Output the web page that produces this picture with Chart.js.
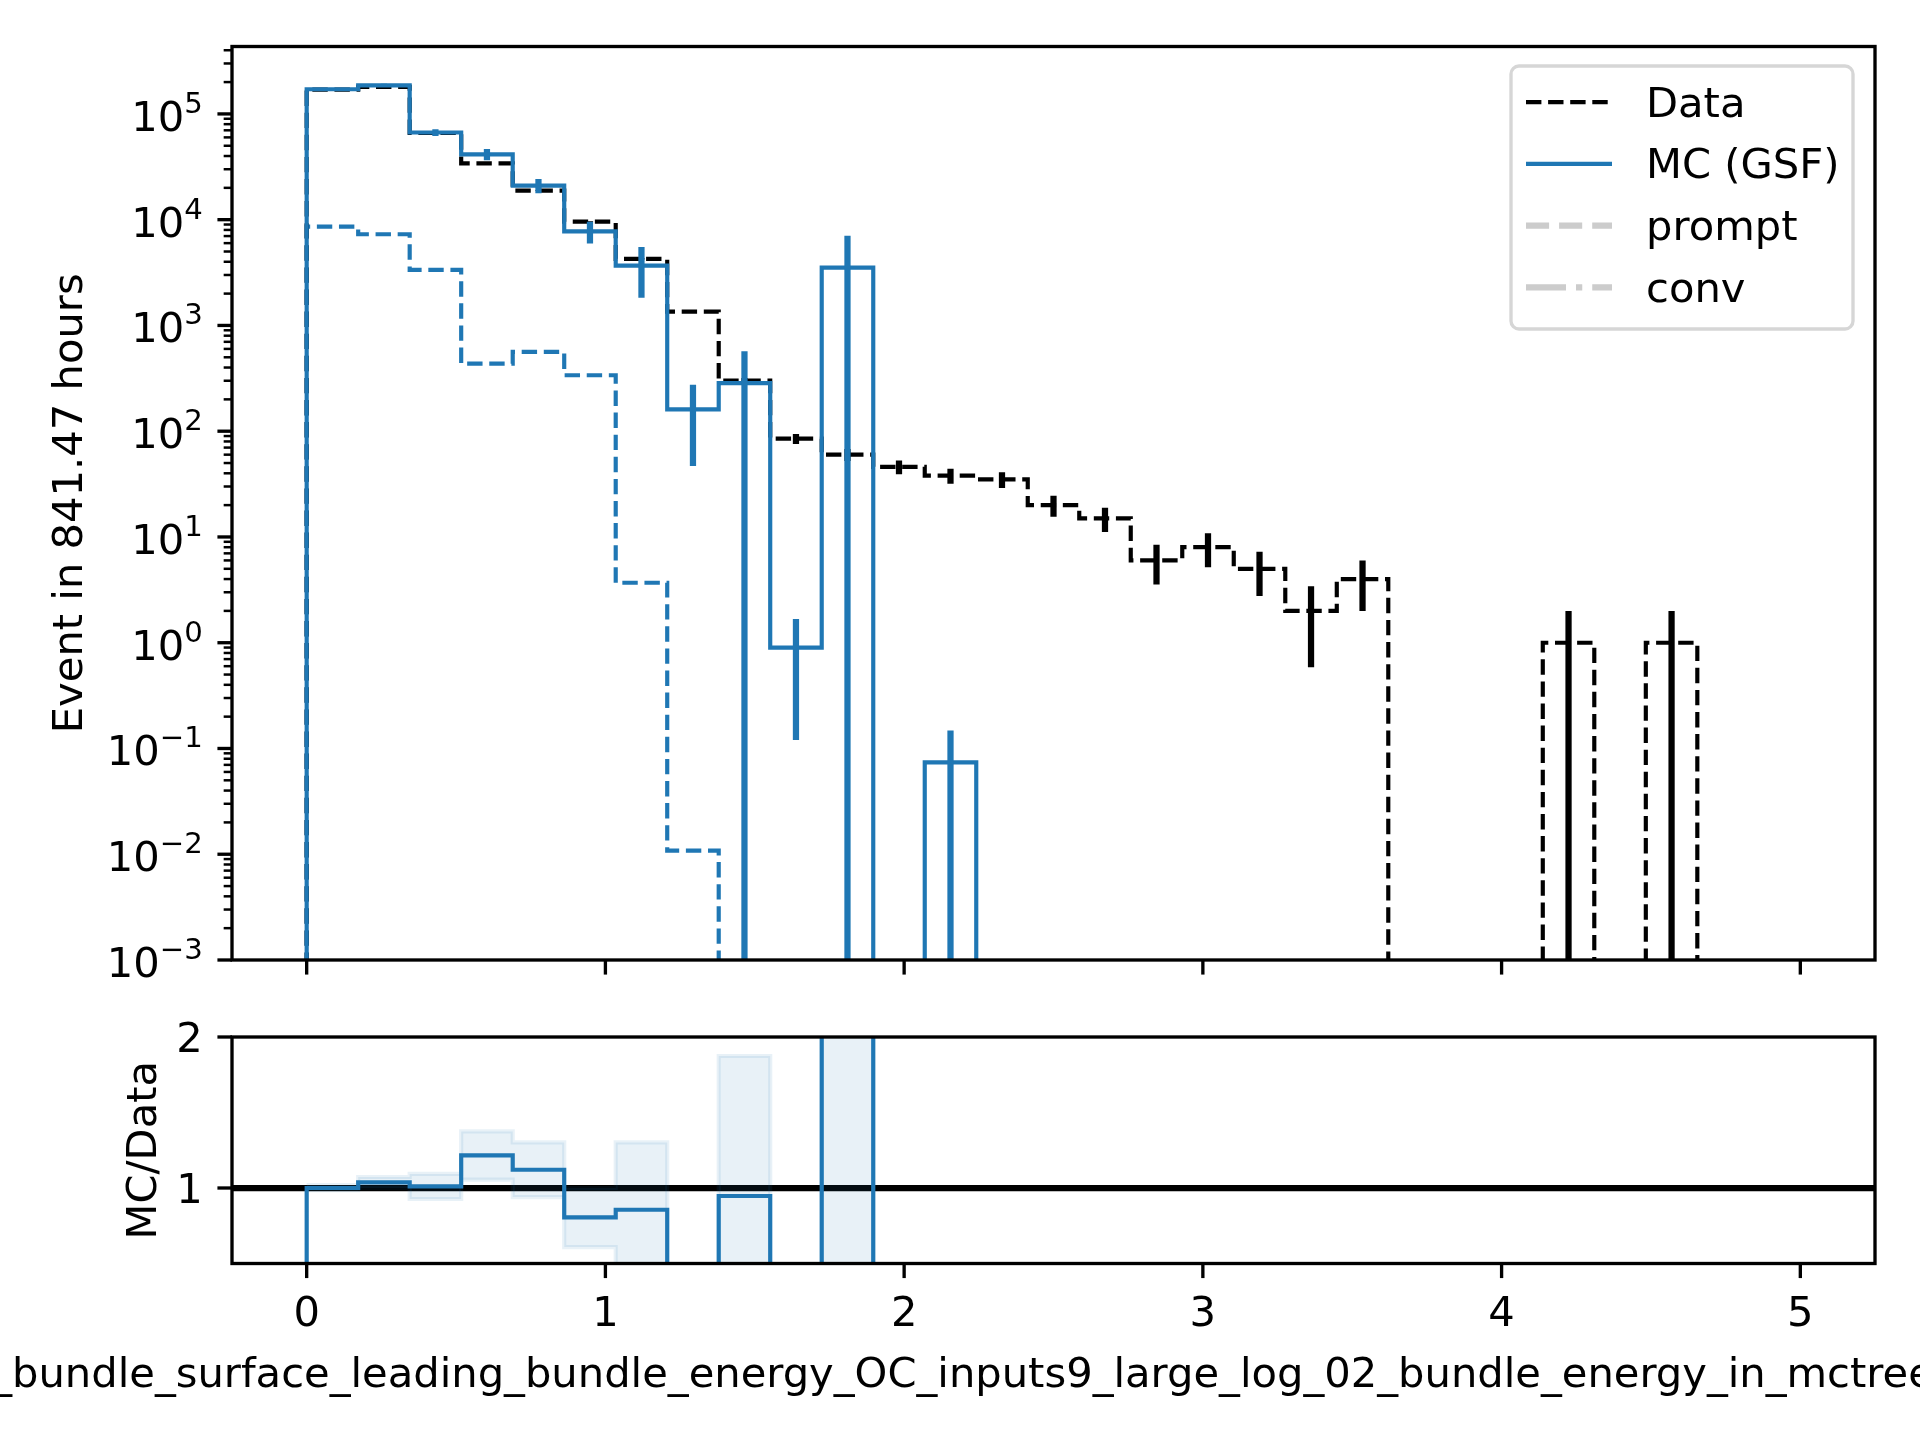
<!DOCTYPE html>
<html>
<head>
<meta charset="utf-8">
<title>bundle energy - data vs MC</title>
<script src="https://cdn.jsdelivr.net/npm/chart.js@4.4.0/dist/chart.umd.min.js"></script>
<style>
  html, body { margin: 0; padding: 0; background: #ffffff; }
  #wrap { position: relative; width: 1920px; height: 1440px; }
  #wrap canvas { position: absolute; left: 0; top: 0; }
</style>
</head>
<body>
<div id="wrap">
  <canvas id="main" width="1920" height="1440"></canvas>
  <canvas id="ratio" width="1920" height="1440"></canvas>
</div>
<script>
// ========================================
// DATA
// ========================================
// 29 bins between 0 and 5
const binEdges = [0, 0.1724, 0.3448, 0.5172, 0.6897, 0.8621, 1.0345, 1.2069, 1.3793, 1.5517,
                  1.7241, 1.8966, 2.0690, 2.2414, 2.4138, 2.5862, 2.7586, 2.9310, 3.1034, 3.2759,
                  3.4483, 3.6207, 3.7931, 3.9655, 4.1379, 4.3103, 4.4828, 4.6552, 4.8276, 5.0];

const dataCounts = [170000, 180000, 66000, 34100, 18800, 9570, 4260, 1350, 301, 85,
                    60, 46, 38, 35, 20, 15, 6, 8, 5, 2,
                    4, 0, 0, 0, 1, 0, 1, 0, 0];

const mcGsf = [171000, 186500, 66700, 41500, 21000, 7760, 3680, 161, 285, 0.90,
               3520, 0, 0.0738, 0, 0, 0, 0, 0, 0, 0,
               0, 0, 0, 0, 0, 0, 0, 0, 0];

const mcGsfErr = [2500, 6700, 5000, 5100, 3250, 1800, 1850, 114, 285, 0.78,
                  3520, 0, 0.0738, 0, 0, 0, 0, 0, 0, 0,
                  0, 0, 0, 0, 0, 0, 0, 0, 0];

// dashed blue component of the MC
const mcComponent = [8590, 7280, 3350, 435, 562, 338, 3.69, 0.0108, 0, 0,
                     0, 0, 0, 0, 0, 0, 0, 0, 0, 0,
                     0, 0, 0, 0, 0, 0, 0, 0, 0];

// MC/Data ratio and its band
const ratio = [1.0, 1.037, 1.011, 1.216, 1.121, 0.805, 0.856, 0.12, 0.947, 0.0106,
               58.7, 0, 0.0019, 0, 0, 0, 0, 0, 0, 0,
               0, null, null, null, 0, null, 0, null, null];
const ratioLo = [0.985, 1.0, 0.927, 1.055, 0.94, 0.609, 0.41, 0.04, 0.0, 0.0,
                 0.0, 0, 0, 0, 0, 0, 0, 0, 0, 0,
                 0, 0, 0, 0, 0, 0, 0, 0, 0];
const ratioHi = [1.02, 1.073, 1.093, 1.375, 1.302, 1.0, 1.302, 0.2, 1.874, 0.021,
                 117, 0, 0.004, 0, 0, 0, 0, 0, 0, 0,
                 0, 0, 0, 0, 0, 0, 0, 0, 0];
const refLine = 1;

// axes / ticks
const xTicks = [0, 1, 2, 3, 4, 5];
const yExponents = [-3, -2, -1, 0, 1, 2, 3, 4, 5];
const ratioTicks = [1, 2];
const legendLabels = ['Data', 'MC (GSF)', 'prompt', 'conv'];
const yLabelMain = 'Event in 841.47 hours';
const yLabelRatio = 'MC/Data';
const xLabelText = '_bundle_surface_leading_bundle_energy_OC_inputs9_large_log_02_bundle_energy_in_mctree';

// ========================================
// STYLE
// ========================================
const BLUE = '#1f77b4';
const GRAY = '#cccccc';
const LW = 4.17;          // 1pt at 300 dpi
const LW_ERR = 6.25;      // 1.5pt
const DASH = [15.4, 6.7];
const TICK_FONT = '41.67px "DejaVu Sans"';
const SUP_FONT = '29.17px "DejaVu Sans"';
const LOG_FLOOR = 1e-6;   // below the axis, gets clipped
const RATIO_FLOOR = -10;

// ========================================
// HELPERS
// ========================================
function stepLine(vals, floor, isLog) {
    const fix = v => (v === null ? null : (isLog && v <= 0 ? floor : v));
    const pts = [];
    if (floor !== undefined) pts.push({x: binEdges[0], y: floor});
    vals.forEach((v, i) => pts.push({x: binEdges[i], y: fix(v)}));
    const n = vals.length;
    pts.push({x: binEdges[n], y: floor !== undefined ? floor : fix(vals[n - 1])});
    return pts;
}

function errorBars(vals, errs, floor) {
    const pts = [];
    vals.forEach((v, i) => {
        if (!(errs[i] > 0)) return;
        const c = (binEdges[i] + binEdges[i + 1]) / 2;
        const lo = v - errs[i];
        pts.push({x: c, y: lo > 0 ? lo : floor}, {x: c, y: v + errs[i]}, {x: c, y: null});
    });
    return pts;
}

function lineDs(data, color, width, order, extra) {
    return Object.assign({
        data: data, borderColor: color, borderWidth: width, order: order,
        pointRadius: 0, fill: false, tension: 0, spanGaps: false,
        borderCapStyle: 'butt', borderJoinStyle: 'miter'
    }, extra || {});
}

function seg(ctx, x1, y1, x2, y2, w) {
    ctx.lineWidth = w;
    ctx.beginPath();
    ctx.moveTo(x1, y1);
    ctx.lineTo(x2, y2);
    ctx.stroke();
}

function drawPow10(ctx, exp, right, baseline) {
    const sup = (exp < 0 ? '\u2212' : '') + Math.abs(exp);
    ctx.font = SUP_FONT;
    const ws = ctx.measureText(sup).width;
    ctx.font = TICK_FONT;
    const wb = ctx.measureText('10').width;
    ctx.textAlign = 'left';
    ctx.textBaseline = 'alphabetic';
    ctx.fillText('10', right - ws - wb, baseline);
    ctx.font = SUP_FONT;
    ctx.fillText(sup, right - ws, baseline - 18);
}

function drawRotated(ctx, text, x, y) {
    ctx.save();
    ctx.translate(x, y);
    ctx.rotate(-Math.PI / 2);
    ctx.font = TICK_FONT;
    ctx.textAlign = 'center';
    ctx.textBaseline = 'alphabetic';
    ctx.fillText(text, 0, 0);
    ctx.restore();
}

function spines(ctx, a) {
    ctx.strokeStyle = '#000';
    ctx.lineWidth = 3.33;
    ctx.strokeRect(a.left, a.top, a.right - a.left, a.bottom - a.top);
}

// ========================================
// AXES PLUGINS (matplotlib-like)
// ========================================
const mainAxes = {
    id: 'mainAxes',
    afterDatasetsDraw(chart) {
        const {ctx, chartArea: a, scales: {x, y}} = chart;
        ctx.save();
        spines(ctx, a);
        ctx.strokeStyle = '#000';
        ctx.fillStyle = '#000';
        xTicks.forEach(v => {
            const px = x.getPixelForValue(v);
            seg(ctx, px, a.bottom, px, a.bottom + 14.58, 3.33);
        });
        yExponents.forEach(e => {
            const base = Math.pow(10, e);
            const py = y.getPixelForValue(base);
            seg(ctx, a.left - 14.58, py, a.left, py, 3.33);
            drawPow10(ctx, e, a.left - 29.2, py + 17);
            for (let m = 2; m <= 9; m++) {
                if (m * base > y.max) break;
                const pm = y.getPixelForValue(m * base);
                seg(ctx, a.left - 8.33, pm, a.left, pm, 2.5);
            }
        });
        drawRotated(ctx, yLabelMain, 81.7, (a.top + a.bottom) / 2);

        // legend
        const L = {left: 1511, top: 66, right: 1853, bottom: 329};
        ctx.beginPath();
        ctx.roundRect(L.left, L.top, L.right - L.left, L.bottom - L.top, 8);
        ctx.fillStyle = 'rgba(255,255,255,0.8)';
        ctx.fill();
        ctx.lineWidth = 3.33;
        ctx.strokeStyle = 'rgba(204,204,204,0.8)';
        ctx.stroke();
        const styles = [
            {color: '#000', width: LW, dash: DASH},
            {color: BLUE, width: LW, dash: []},
            {color: GRAY, width: LW_ERR, dash: [23.1, 10]},
            {color: GRAY, width: LW_ERR, dash: [40, 10, 6.25, 10]}
        ];
        legendLabels.forEach((lab, i) => {
            const base = 116.7 + i * 61.7;
            const ly = base - 14.5;
            ctx.save();
            ctx.strokeStyle = styles[i].color;
            ctx.setLineDash(styles[i].dash);
            ctx.lineCap = 'butt';
            seg(ctx, 1526, ly, 1612, ly, styles[i].width);
            ctx.restore();
            ctx.fillStyle = '#000';
            ctx.font = TICK_FONT;
            ctx.textAlign = 'left';
            ctx.textBaseline = 'alphabetic';
            ctx.fillText(lab, 1646, base);
        });
        ctx.restore();
    }
};

const ratioAxes = {
    id: 'ratioAxes',
    afterDatasetsDraw(chart) {
        const {ctx, chartArea: a, scales: {x, y}} = chart;
        ctx.save();
        spines(ctx, a);
        ctx.strokeStyle = '#000';
        ctx.fillStyle = '#000';
        ctx.font = TICK_FONT;
        ctx.textBaseline = 'alphabetic';
        xTicks.forEach(v => {
            const px = x.getPixelForValue(v);
            seg(ctx, px, a.bottom, px, a.bottom + 14.58, 3.33);
            ctx.textAlign = 'center';
            ctx.fillText(String(v), px, a.bottom + 62.4);
        });
        ratioTicks.forEach(v => {
            const py = y.getPixelForValue(v);
            seg(ctx, a.left - 14.58, py, a.left, py, 3.33);
            ctx.textAlign = 'right';
            ctx.fillText(String(v), a.left - 29.2, py + 15.2);
        });
        drawRotated(ctx, yLabelRatio, 156, (a.top + a.bottom) / 2);
        ctx.font = TICK_FONT;
        ctx.textAlign = 'left';
        const wu = ctx.measureText('_').width;
        ctx.fillText(xLabelText, 12 - wu, 1387);
        ctx.restore();
    }
};

const commonOpts = {
    responsive: false,
    devicePixelRatio: 1,
    animation: false,
    events: [],
    plugins: {legend: {display: false}, tooltip: {enabled: false}, title: {display: false}}
};

// ========================================
// MAIN PANEL
// ========================================
new Chart(document.getElementById('main'), {
    type: 'line',
    data: {
        datasets: [
            lineDs(errorBars(mcGsf, mcGsfErr, LOG_FLOOR), BLUE, LW_ERR, 0),
            lineDs(stepLine(mcGsf, LOG_FLOOR, true), BLUE, LW, 1, {stepped: 'before'}),
            lineDs(errorBars(dataCounts, dataCounts.map(n => Math.sqrt(n)), LOG_FLOOR), '#000', LW_ERR, 2),
            lineDs(stepLine(dataCounts, LOG_FLOOR, true), '#000', LW, 3, {stepped: 'before', borderDash: DASH}),
            lineDs(stepLine(mcComponent, LOG_FLOOR, true), BLUE, LW, 4, {stepped: 'before', borderDash: DASH})
        ]
    },
    options: Object.assign({}, commonOpts, {
        layout: {padding: {left: 232, top: 46.5, right: 45, bottom: 480}},
        scales: {
            x: {type: 'linear', min: -0.25, max: 5.25, display: false},
            y: {type: 'logarithmic', min: 1e-3, max: 4.34e5, display: false}
        }
    }),
    plugins: [mainAxes]
});

// ========================================
// RATIO PANEL
// ========================================
new Chart(document.getElementById('ratio'), {
    type: 'line',
    data: {
        datasets: [
            lineDs(stepLine(ratio, RATIO_FLOOR, false), BLUE, LW, 0, {stepped: 'before'}),
            lineDs(stepLine(ratioHi), 'rgba(31,119,180,0.1)', LW, 1,
                   {stepped: 'before', fill: '+1', backgroundColor: 'rgba(31,119,180,0.1)'}),
            lineDs(stepLine(ratioLo), 'rgba(31,119,180,0.1)', LW, 2, {stepped: 'before'}),
            lineDs([{x: -0.25, y: refLine}, {x: 5.25, y: refLine}], '#000', LW_ERR, 3)
        ]
    },
    options: Object.assign({}, commonOpts, {
        layout: {padding: {left: 232, top: 1037, right: 45, bottom: 176.5}},
        scales: {
            x: {type: 'linear', min: -0.25, max: 5.25, display: false},
            y: {type: 'linear', min: 0.5, max: 2, display: false}
        }
    }),
    plugins: [ratioAxes]
});
</script>
</body>
</html>
